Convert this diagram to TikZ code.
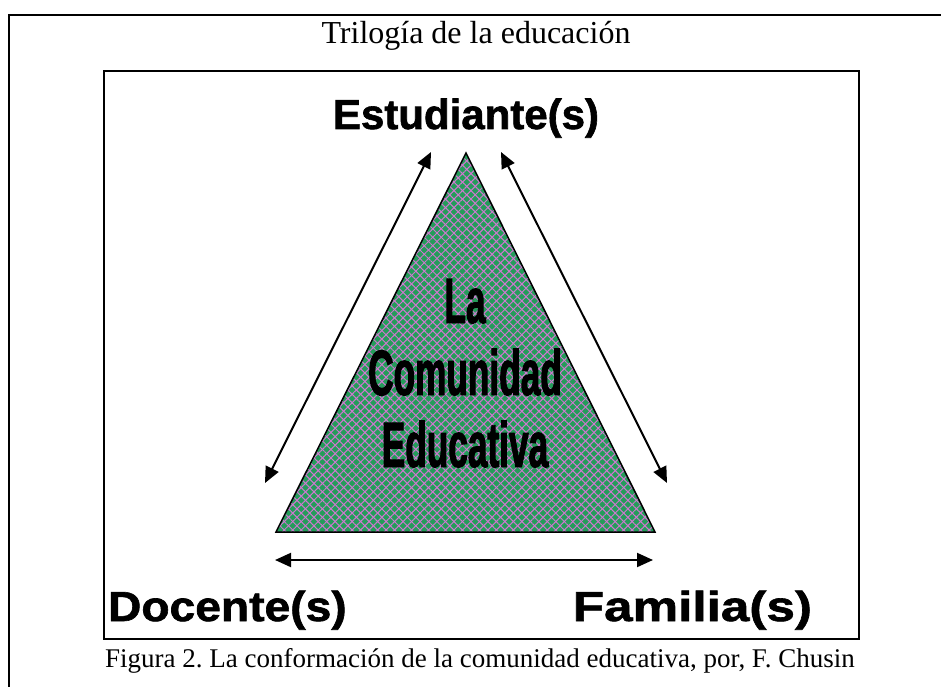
\documentclass[tikz,border=0pt]{standalone}
\usepackage{fontspec}
\setmainfont{Liberation Serif}
\newfontfamily\headfont[FakeBold=1.5]{Liberation Sans}
\newfontfamily\condfont[FakeStretch=0.55,FakeBold=1.5]{Liberation Sans}
\usetikzlibrary{arrows.meta,patterns.meta}
\definecolor{trigreen}{RGB}{36,156,90}
\definecolor{hatchpink}{RGB}{208,120,208}
\frenchspacing

\begin{document}
\begin{tikzpicture}[x=1pt,y=-1pt,line width=2pt,>={Triangle[length=16pt,width=14pt]},who/.style={font=\headfont\bfseries\fontsize{42}{42}\selectfont\addfontfeature{FakeStretch=#1},inner sep=0pt},who/.default=1,inside/.style={font=\condfont\bfseries\fontsize{64}{72}\selectfont,align=center,inner sep=0pt},plain/.style={inner sep=0pt,anchor=base}]
\useasboundingbox (0,0) rectangle (941,687);
\draw (9,700) -- (9,15) -- (950,15);
\draw (104,71) rectangle (859,639);
\node[plain,font=\fontsize{32}{32}\selectfont] (title) at (476,44) {Trilogía de la educación};
\node[plain,font=\fontsize{27}{27}\selectfont] (figcap) at (480,667) {Figura 2. La conformación de la comunidad educativa, por, F. Chusin};
\coordinate (apex) at (466,153); \coordinate (bl) at (276,532); \coordinate (br) at (655,532);
\fill[trigreen] (apex) -- (bl) -- (br) -- cycle;
\foreach \a in {45,-45}{\fill[pattern={Lines[angle=\a,distance=6pt,line width=1pt]},pattern color=hatchpink] (apex) -- (bl) -- (br) -- cycle;};
\draw[line width=1.5pt,line join=miter] (apex) -- (bl) -- (br) -- cycle;
\node[who,anchor=base] (est) at (466,129) {Estudiante(s)};
\node[who=1.1,anchor=base west] (doc) at (107,621) {Docente(s)};
\node[who=1.22,anchor=base east] (fam) at (813,621) {Familia(s)};
\node[inside,anchor=base] (comunidad) at (465,467) {La\\Comunidad\\Educativa};
\coordinate (l1) at (431,152); \coordinate (l2) at (265,483);
\coordinate (r1) at (501,152); \coordinate (r2) at (667,483);
\coordinate (h1) at (275,560); \coordinate (h2) at (653,560);
\draw[<->] (l1) -- (l2);
\draw[<->] (r1) -- (r2);
\draw[<->] (h1) -- (h2);
\end{tikzpicture}
\end{document}
